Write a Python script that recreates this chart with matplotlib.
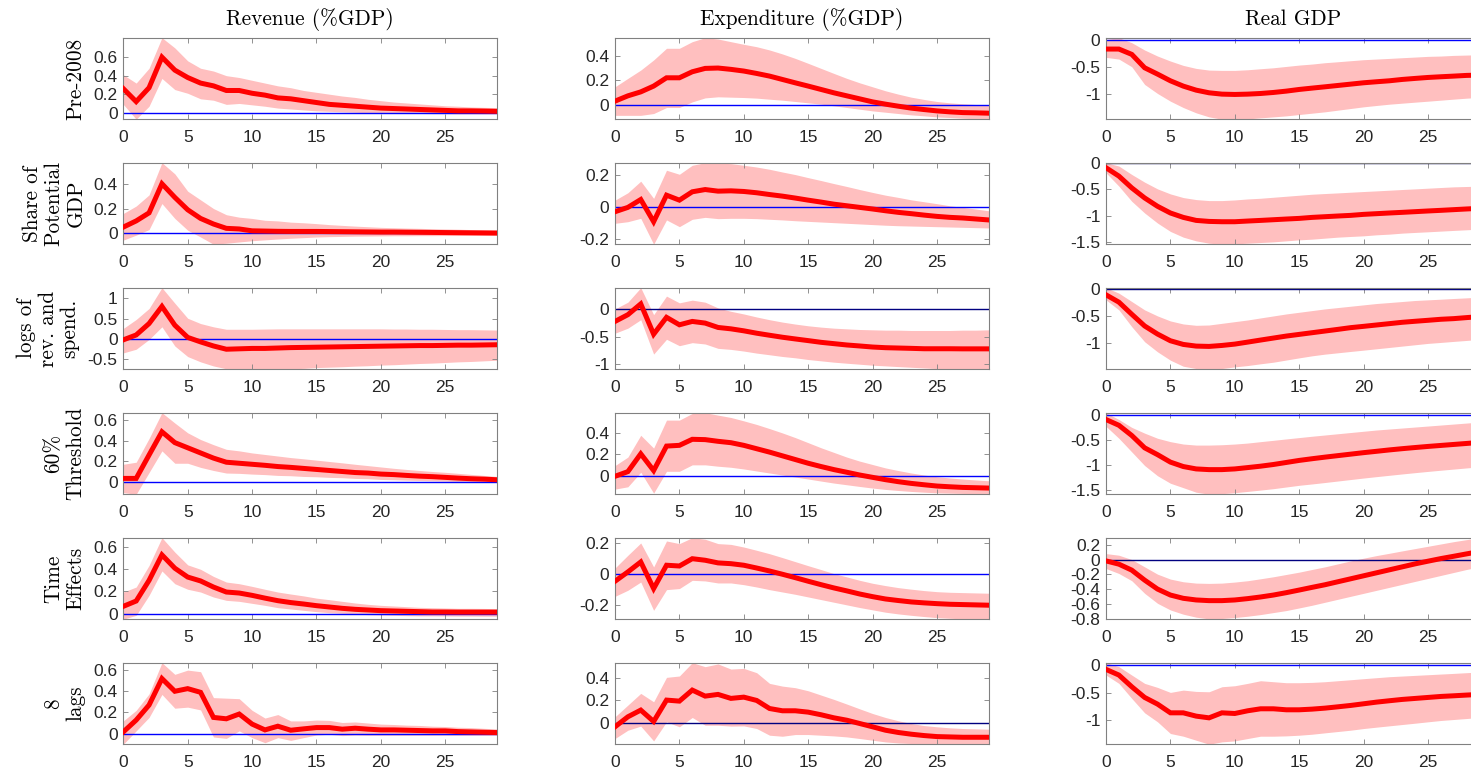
import numpy as np
import matplotlib
matplotlib.use('Agg')
import matplotlib.pyplot as plt
from matplotlib.ticker import FuncFormatter

horizon = np.arange(30)
xticks = [0, 5, 10, 15, 20, 25]
col_titles = ['Revenue (%GDP)', 'Expenditure (%GDP)', 'Real GDP']
row_labels = ['Pre-2008', 'Share of\nPotential\nGDP', 'logs of\nrev. and\nspend.',
              '60%\nThreshold', 'Time\nEffects', '8\nlags']

# ---------------- Revenue (%GDP) ----------------
rev_pre2008_med = [0.26,0.12,0.27,0.60,0.46,0.38,0.32,0.29,0.24,0.24,0.21,0.19,0.16,0.15,0.13,0.11,0.09,0.08,0.07,0.06,0.05,0.045,0.04,0.035,0.03,0.025,0.02,0.02,0.018,0.015]
rev_pre2008_hi = [0.41,0.32,0.48,0.81,0.70,0.56,0.48,0.45,0.40,0.38,0.35,0.32,0.29,0.27,0.24,0.22,0.20,0.18,0.165,0.145,0.13,0.115,0.105,0.095,0.085,0.075,0.07,0.062,0.058,0.055]
rev_pre2008_lo = [0.09,-0.07,0.07,0.37,0.25,0.21,0.15,0.135,0.09,0.10,0.085,0.07,0.05,0.04,0.03,0.02,0.015,0.01,0.005,0.0,-0.003,-0.005,-0.007,-0.008,-0.01,-0.01,-0.012,-0.012,-0.013,-0.013]

rev_share_med = [0.05,0.10,0.165,0.40,0.29,0.19,0.12,0.075,0.04,0.035,0.02,0.018,0.016,0.015,0.015,0.015,0.014,0.013,0.012,0.011,0.01,0.01,0.009,0.008,0.007,0.006,0.005,0.004,0.003,0.002]
rev_share_hi = [0.16,0.22,0.31,0.57,0.48,0.34,0.27,0.20,0.15,0.13,0.12,0.105,0.10,0.09,0.085,0.078,0.07,0.064,0.058,0.053,0.048,0.045,0.042,0.04,0.037,0.035,0.033,0.03,0.028,0.026]
rev_share_lo = [-0.055,-0.015,0.03,0.24,0.12,0.025,-0.03,-0.088,-0.08,-0.07,-0.06,-0.053,-0.046,-0.04,-0.035,-0.03,-0.027,-0.025,-0.023,-0.022,-0.021,-0.02,-0.02,-0.019,-0.019,-0.018,-0.018,-0.017,-0.017,-0.017]

rev_logs_med = [-0.02,0.10,0.38,0.80,0.34,0.04,-0.07,-0.17,-0.25,-0.24,-0.23,-0.23,-0.22,-0.21,-0.205,-0.20,-0.195,-0.19,-0.185,-0.18,-0.175,-0.17,-0.165,-0.16,-0.16,-0.155,-0.15,-0.15,-0.145,-0.14]
rev_logs_hi = [0.26,0.48,0.75,1.26,0.88,0.51,0.38,0.30,0.24,0.24,0.24,0.245,0.25,0.25,0.25,0.25,0.25,0.25,0.25,0.25,0.25,0.245,0.245,0.24,0.24,0.235,0.23,0.23,0.225,0.22]
rev_logs_lo = [-0.34,-0.25,-0.01,0.30,-0.17,-0.43,-0.56,-0.66,-0.73,-0.74,-0.74,-0.74,-0.735,-0.73,-0.72,-0.70,-0.69,-0.68,-0.665,-0.655,-0.64,-0.63,-0.615,-0.60,-0.59,-0.575,-0.56,-0.55,-0.535,-0.52]

rev_thr_med = [0.033,0.033,0.26,0.485,0.38,0.33,0.28,0.23,0.19,0.18,0.17,0.16,0.148,0.14,0.13,0.12,0.11,0.10,0.09,0.085,0.075,0.07,0.062,0.055,0.05,0.043,0.036,0.03,0.026,0.02]
rev_thr_hi = [0.17,0.19,0.42,0.67,0.57,0.475,0.41,0.36,0.315,0.30,0.28,0.265,0.25,0.235,0.223,0.21,0.197,0.184,0.17,0.157,0.144,0.131,0.12,0.11,0.10,0.092,0.082,0.072,0.062,0.052]
rev_thr_lo = [-0.105,-0.12,0.09,0.30,0.18,0.18,0.14,0.11,0.085,0.082,0.075,0.07,0.062,0.059,0.052,0.049,0.043,0.04,0.033,0.03,0.023,0.02,0.016,0.013,0.01,0.007,0.003,0.0,-0.003,-0.006]

rev_time_med = [0.066,0.114,0.30,0.53,0.41,0.33,0.295,0.24,0.195,0.186,0.165,0.14,0.117,0.10,0.087,0.072,0.06,0.048,0.039,0.033,0.027,0.024,0.021,0.018,0.015,0.015,0.014,0.014,0.014,0.014]
rev_time_hi = [0.195,0.24,0.435,0.685,0.555,0.44,0.40,0.336,0.285,0.27,0.246,0.22,0.195,0.177,0.16,0.14,0.126,0.111,0.096,0.084,0.075,0.069,0.063,0.057,0.054,0.051,0.048,0.048,0.047,0.045]
rev_time_lo = [-0.05,-0.015,0.165,0.385,0.27,0.22,0.195,0.15,0.12,0.111,0.093,0.075,0.054,0.042,0.03,0.018,0.009,0.003,-0.003,-0.009,-0.012,-0.015,-0.018,-0.02,-0.02,-0.021,-0.022,-0.022,-0.023,-0.023]

rev_lags_med = [0.016,0.128,0.27,0.52,0.40,0.425,0.39,0.153,0.14,0.185,0.09,0.035,0.07,0.032,0.045,0.057,0.057,0.042,0.051,0.042,0.035,0.035,0.032,0.029,0.026,0.026,0.019,0.016,0.013,0.01]
rev_lags_hi = [0.12,0.22,0.375,0.67,0.56,0.60,0.585,0.34,0.335,0.33,0.22,0.147,0.18,0.12,0.12,0.128,0.125,0.105,0.11,0.10,0.09,0.086,0.08,0.077,0.07,0.067,0.06,0.057,0.05,0.045]
rev_lags_lo = [-0.10,0.026,0.153,0.37,0.24,0.25,0.224,-0.032,-0.045,0.026,-0.038,-0.086,-0.038,-0.064,-0.038,-0.013,-0.006,-0.019,-0.013,-0.016,-0.016,-0.016,-0.016,-0.016,-0.016,-0.016,-0.016,-0.016,-0.016,-0.016]

# ---------------- Expenditure (%GDP) ----------------
exp_pre2008_med = [0.028,0.072,0.105,0.153,0.222,0.222,0.272,0.30,0.303,0.292,0.278,0.258,0.236,0.208,0.18,0.153,0.125,0.097,0.072,0.047,0.022,0.003,-0.014,-0.03,-0.042,-0.053,-0.061,-0.067,-0.069,-0.072]
exp_pre2008_hi = [0.147,0.217,0.286,0.37,0.467,0.467,0.522,0.555,0.544,0.522,0.50,0.48,0.453,0.42,0.383,0.342,0.30,0.258,0.217,0.18,0.147,0.114,0.086,0.061,0.042,0.025,0.014,0.006,0.0,-0.006]
exp_pre2008_lo = [-0.09,-0.09,-0.09,-0.075,-0.025,-0.025,0.022,0.055,0.064,0.061,0.058,0.053,0.044,0.036,0.025,0.014,0.003,-0.011,-0.025,-0.039,-0.053,-0.064,-0.075,-0.086,-0.094,-0.103,-0.108,-0.114,-0.119,-0.122]

exp_share_med = [-0.031,-0.004,0.045,-0.093,0.072,0.041,0.093,0.107,0.097,0.099,0.095,0.087,0.076,0.066,0.054,0.041,0.029,0.016,0.006,-0.004,-0.014,-0.025,-0.035,-0.043,-0.052,-0.06,-0.066,-0.07,-0.076,-0.082]
exp_share_hi = [0.041,0.087,0.159,0.052,0.227,0.202,0.258,0.274,0.272,0.268,0.258,0.247,0.233,0.216,0.2,0.181,0.163,0.144,0.126,0.107,0.089,0.072,0.058,0.043,0.031,0.019,0.006,-0.004,-0.014,-0.025]
exp_share_lo = [-0.103,-0.093,-0.072,-0.233,-0.082,-0.124,-0.078,-0.066,-0.074,-0.072,-0.072,-0.074,-0.078,-0.082,-0.087,-0.091,-0.095,-0.099,-0.103,-0.107,-0.111,-0.115,-0.118,-0.12,-0.122,-0.124,-0.126,-0.128,-0.13,-0.132]

exp_logs_med = [-0.226,-0.104,0.091,-0.457,-0.152,-0.287,-0.226,-0.256,-0.335,-0.36,-0.396,-0.439,-0.476,-0.512,-0.543,-0.573,-0.604,-0.628,-0.652,-0.67,-0.689,-0.701,-0.707,-0.713,-0.72,-0.72,-0.72,-0.722,-0.722,-0.722]
exp_logs_hi = [0.0,0.122,0.384,-0.104,0.232,0.11,0.159,0.122,0.018,-0.043,-0.091,-0.146,-0.195,-0.238,-0.274,-0.305,-0.329,-0.348,-0.36,-0.372,-0.378,-0.384,-0.384,-0.39,-0.39,-0.39,-0.39,-0.384,-0.384,-0.378]
exp_logs_lo = [-0.439,-0.348,-0.195,-0.817,-0.549,-0.665,-0.61,-0.634,-0.713,-0.732,-0.762,-0.799,-0.829,-0.86,-0.884,-0.915,-0.939,-0.963,-0.982,-1.0,-1.018,-1.03,-1.043,-1.055,-1.067,-1.079,-1.085,-1.09,-1.09,-1.09]

exp_thr_med = [-0.006,0.038,0.206,0.048,0.279,0.286,0.343,0.34,0.324,0.311,0.286,0.254,0.222,0.187,0.152,0.117,0.086,0.057,0.032,0.006,-0.016,-0.038,-0.057,-0.073,-0.086,-0.098,-0.105,-0.111,-0.114,-0.117]
exp_thr_hi = [0.095,0.175,0.381,0.26,0.524,0.524,0.587,0.594,0.571,0.549,0.517,0.483,0.444,0.403,0.359,0.311,0.263,0.219,0.175,0.137,0.105,0.073,0.048,0.025,0.006,-0.01,-0.022,-0.032,-0.041,-0.048]
exp_thr_lo = [-0.127,-0.105,0.032,-0.165,0.041,0.041,0.102,0.102,0.089,0.079,0.063,0.044,0.025,0.006,-0.013,-0.032,-0.051,-0.07,-0.086,-0.102,-0.117,-0.13,-0.14,-0.149,-0.156,-0.162,-0.165,-0.168,-0.171,-0.175]

exp_time_med = [-0.049,0.011,0.075,-0.096,0.054,0.049,0.096,0.086,0.069,0.064,0.054,0.036,0.017,-0.004,-0.026,-0.049,-0.071,-0.092,-0.111,-0.131,-0.148,-0.163,-0.173,-0.182,-0.188,-0.193,-0.197,-0.199,-0.201,-0.203]
exp_time_hi = [0.036,0.118,0.197,0.043,0.21,0.193,0.231,0.221,0.193,0.188,0.171,0.15,0.128,0.103,0.077,0.051,0.026,0.0,-0.021,-0.043,-0.062,-0.077,-0.09,-0.1,-0.109,-0.116,-0.12,-0.122,-0.124,-0.126]
exp_time_lo = [-0.146,-0.107,-0.054,-0.236,-0.103,-0.096,-0.043,-0.047,-0.06,-0.06,-0.071,-0.086,-0.103,-0.118,-0.133,-0.15,-0.167,-0.184,-0.201,-0.218,-0.233,-0.248,-0.259,-0.268,-0.276,-0.283,-0.287,-0.291,-0.293,-0.293]

exp_lags_med = [-0.032,0.056,0.115,0.015,0.203,0.194,0.291,0.238,0.253,0.218,0.229,0.2,0.129,0.109,0.109,0.097,0.074,0.047,0.026,-0.003,-0.032,-0.062,-0.082,-0.097,-0.109,-0.118,-0.121,-0.124,-0.124,-0.124]
exp_lags_hi = [0.056,0.159,0.262,0.188,0.403,0.415,0.532,0.497,0.521,0.476,0.482,0.444,0.35,0.326,0.312,0.285,0.247,0.209,0.168,0.126,0.085,0.05,0.021,-0.003,-0.021,-0.032,-0.041,-0.047,-0.05,-0.053]
exp_lags_lo = [-0.135,-0.062,-0.026,-0.156,0.012,-0.032,0.05,-0.018,-0.018,-0.026,-0.024,-0.047,-0.106,-0.115,-0.1,-0.1,-0.106,-0.112,-0.121,-0.135,-0.15,-0.165,-0.174,-0.179,-0.182,-0.185,-0.185,-0.185,-0.185,-0.185]

# ---------------- Real GDP ----------------
gdp_pre2008_med = [-0.168,-0.168,-0.267,-0.516,-0.634,-0.758,-0.857,-0.932,-0.981,-1.006,-1.012,-1.006,-0.994,-0.975,-0.95,-0.919,-0.894,-0.87,-0.845,-0.82,-0.795,-0.776,-0.758,-0.733,-0.714,-0.696,-0.683,-0.671,-0.658,-0.652]
gdp_pre2008_hi = [0.012,0.043,-0.05,-0.186,-0.298,-0.391,-0.472,-0.528,-0.559,-0.565,-0.565,-0.553,-0.534,-0.516,-0.491,-0.466,-0.447,-0.422,-0.404,-0.385,-0.366,-0.354,-0.342,-0.329,-0.317,-0.304,-0.298,-0.286,-0.28,-0.273]
gdp_pre2008_lo = [-0.323,-0.354,-0.497,-0.826,-0.994,-1.137,-1.255,-1.354,-1.429,-1.472,-1.472,-1.466,-1.447,-1.429,-1.41,-1.385,-1.36,-1.335,-1.304,-1.273,-1.242,-1.217,-1.193,-1.174,-1.155,-1.137,-1.118,-1.099,-1.081,-1.068]

gdp_share_med = [-0.095,-0.253,-0.475,-0.665,-0.823,-0.949,-1.032,-1.089,-1.108,-1.114,-1.114,-1.101,-1.089,-1.076,-1.063,-1.051,-1.032,-1.019,-1.006,-0.994,-0.975,-0.962,-0.949,-0.937,-0.924,-0.911,-0.899,-0.886,-0.873,-0.861]
gdp_share_hi = [0.0,-0.063,-0.222,-0.367,-0.494,-0.589,-0.658,-0.696,-0.715,-0.715,-0.703,-0.684,-0.671,-0.652,-0.633,-0.614,-0.595,-0.582,-0.57,-0.557,-0.544,-0.532,-0.519,-0.506,-0.494,-0.481,-0.468,-0.456,-0.449,-0.443]
gdp_share_lo = [-0.19,-0.443,-0.728,-0.949,-1.139,-1.297,-1.405,-1.475,-1.519,-1.538,-1.532,-1.519,-1.506,-1.494,-1.475,-1.456,-1.443,-1.424,-1.405,-1.392,-1.38,-1.361,-1.348,-1.329,-1.316,-1.304,-1.291,-1.278,-1.266,-1.253]

gdp_logs_med = [-0.112,-0.248,-0.472,-0.689,-0.839,-0.963,-1.031,-1.062,-1.068,-1.05,-1.025,-0.988,-0.95,-0.913,-0.876,-0.845,-0.814,-0.783,-0.752,-0.72,-0.696,-0.671,-0.646,-0.621,-0.602,-0.584,-0.565,-0.553,-0.534,-0.516]
gdp_logs_hi = [0.02,-0.081,-0.236,-0.391,-0.503,-0.596,-0.652,-0.677,-0.671,-0.64,-0.609,-0.578,-0.54,-0.503,-0.466,-0.435,-0.404,-0.373,-0.348,-0.323,-0.298,-0.273,-0.255,-0.236,-0.217,-0.205,-0.193,-0.18,-0.168,-0.155]
gdp_logs_lo = [-0.205,-0.391,-0.702,-0.981,-1.168,-1.323,-1.435,-1.478,-1.49,-1.478,-1.447,-1.422,-1.39,-1.36,-1.32,-1.28,-1.242,-1.211,-1.186,-1.161,-1.137,-1.112,-1.087,-1.062,-1.037,-1.012,-0.994,-0.975,-0.957,-0.938]

gdp_thr_med = [-0.089,-0.205,-0.41,-0.658,-0.795,-0.945,-1.034,-1.082,-1.096,-1.096,-1.082,-1.055,-1.027,-0.993,-0.952,-0.911,-0.877,-0.845,-0.815,-0.785,-0.755,-0.728,-0.70,-0.675,-0.652,-0.63,-0.61,-0.59,-0.57,-0.55]
gdp_thr_hi = [0.048,-0.089,-0.247,-0.363,-0.466,-0.534,-0.582,-0.603,-0.603,-0.596,-0.582,-0.562,-0.534,-0.507,-0.479,-0.452,-0.425,-0.40,-0.375,-0.35,-0.325,-0.30,-0.28,-0.26,-0.24,-0.22,-0.20,-0.18,-0.16,-0.14]
gdp_thr_lo = [-0.226,-0.466,-0.74,-1.014,-1.219,-1.37,-1.459,-1.55,-1.59,-1.58,-1.56,-1.534,-1.507,-1.479,-1.445,-1.411,-1.384,-1.355,-1.325,-1.295,-1.265,-1.237,-1.21,-1.183,-1.157,-1.132,-1.108,-1.085,-1.062,-1.04]

gdp_time_med = [-0.018,-0.062,-0.142,-0.276,-0.396,-0.476,-0.52,-0.542,-0.551,-0.551,-0.542,-0.524,-0.502,-0.476,-0.444,-0.409,-0.373,-0.338,-0.298,-0.258,-0.218,-0.178,-0.138,-0.098,-0.058,-0.022,0.013,0.044,0.076,0.107]
gdp_time_hi = [0.08,0.058,0.0,-0.098,-0.196,-0.262,-0.298,-0.316,-0.32,-0.316,-0.302,-0.284,-0.258,-0.231,-0.2,-0.169,-0.133,-0.098,-0.058,-0.018,0.018,0.053,0.084,0.116,0.147,0.178,0.209,0.24,0.267,0.293]
gdp_time_lo = [-0.12,-0.187,-0.284,-0.453,-0.587,-0.676,-0.733,-0.773,-0.796,-0.791,-0.778,-0.76,-0.738,-0.711,-0.684,-0.649,-0.613,-0.573,-0.533,-0.493,-0.453,-0.413,-0.373,-0.333,-0.293,-0.253,-0.213,-0.173,-0.133,-0.098]

gdp_lags_med = [-0.079,-0.182,-0.394,-0.588,-0.709,-0.867,-0.867,-0.927,-0.958,-0.867,-0.879,-0.83,-0.794,-0.794,-0.812,-0.812,-0.8,-0.782,-0.758,-0.733,-0.703,-0.673,-0.648,-0.624,-0.606,-0.588,-0.57,-0.558,-0.545,-0.533]
gdp_lags_hi = [0.042,-0.03,-0.182,-0.333,-0.406,-0.497,-0.455,-0.479,-0.485,-0.394,-0.376,-0.333,-0.285,-0.303,-0.321,-0.321,-0.315,-0.303,-0.285,-0.267,-0.248,-0.23,-0.212,-0.2,-0.188,-0.176,-0.164,-0.152,-0.139,-0.127]
gdp_lags_lo = [-0.182,-0.333,-0.606,-0.867,-1.03,-1.242,-1.291,-1.364,-1.436,-1.394,-1.376,-1.333,-1.291,-1.291,-1.285,-1.273,-1.255,-1.23,-1.206,-1.182,-1.152,-1.127,-1.103,-1.079,-1.055,-1.03,-1.006,-0.988,-0.97,-0.952]

# y tick values per panel (rows x columns)
yticks = [
    [[0, 0.2, 0.4, 0.6], [0, 0.2, 0.4], [-1, -0.5, 0]],
    [[0, 0.2, 0.4], [-0.2, 0, 0.2], [-1.5, -1, -0.5, 0]],
    [[-0.5, 0, 0.5, 1], [-1, -0.5, 0], [-1, -0.5, 0]],
    [[0, 0.2, 0.4, 0.6], [0, 0.2, 0.4], [-1.5, -1, -0.5, 0]],
    [[0, 0.2, 0.4, 0.6], [-0.2, 0, 0.2], [-0.8, -0.6, -0.4, -0.2, 0, 0.2]],
    [[0, 0.2, 0.4, 0.6], [0, 0.2, 0.4], [-1, -0.5, 0]],
]

panels = [
    [(rev_pre2008_med, rev_pre2008_lo, rev_pre2008_hi), (exp_pre2008_med, exp_pre2008_lo, exp_pre2008_hi), (gdp_pre2008_med, gdp_pre2008_lo, gdp_pre2008_hi)],
    [(rev_share_med, rev_share_lo, rev_share_hi), (exp_share_med, exp_share_lo, exp_share_hi), (gdp_share_med, gdp_share_lo, gdp_share_hi)],
    [(rev_logs_med, rev_logs_lo, rev_logs_hi), (exp_logs_med, exp_logs_lo, exp_logs_hi), (gdp_logs_med, gdp_logs_lo, gdp_logs_hi)],
    [(rev_thr_med, rev_thr_lo, rev_thr_hi), (exp_thr_med, exp_thr_lo, exp_thr_hi), (gdp_thr_med, gdp_thr_lo, gdp_thr_hi)],
    [(rev_time_med, rev_time_lo, rev_time_hi), (exp_time_med, exp_time_lo, exp_time_hi), (gdp_time_med, gdp_time_lo, gdp_time_hi)],
    [(rev_lags_med, rev_lags_lo, rev_lags_hi), (exp_lags_med, exp_lags_lo, exp_lags_hi), (gdp_lags_med, gdp_lags_lo, gdp_lags_hi)],
]

zero_colors = [
    ['#0000ff', '#0000ff', '#0000ff'],
    ['#0000ff', '#0000ff', '#000060'],
    ['#0000ff', '#000080', '#000080'],
    ['#0000ff', '#0000ff', '#0000ff'],
    ['#0000ff', '#0000ff', '#000080'],
    ['#0000ff', '#000080', '#0000ff'],
]

W, H = 1471, 778
fig = plt.figure(figsize=(W / 100, H / 100), dpi=100)

col_left = [123.3, 615.0, 1106.0]
ax_w = 373.5
row_top0 = 37.7
row_step = 125.0
ax_h = 81.5

tick_font = 'Liberation Sans'
label_font = 'cmr10'
spine_col = '#808080'
band_col = '#ffbfbf'


def fmt(v, pos):
    s = '%g' % round(v, 6)
    if s == '-0':
        s = '0'
    return s


for r in range(6):
    for c in range(3):
        top = row_top0 + r * row_step
        ax = fig.add_axes([col_left[c] / W, 1 - (top + ax_h) / H, ax_w / W, ax_h / H])
        med, lo, hi = (np.array(a) for a in panels[r][c])
        ax.fill_between(horizon, lo, hi, color=band_col, lw=0, zorder=1)
        ax.axhline(0, color=zero_colors[r][c], lw=1.0, zorder=2)
        ax.plot(horizon, med, color='#ff0000', lw=3.6, zorder=3, solid_joinstyle='miter')
        ax.set_xlim(horizon[0], horizon[-1])
        ax.set_ylim(lo.min(), hi.max())
        ax.set_xticks(xticks)
        ax.set_yticks(yticks[r][c])
        ax.yaxis.set_major_formatter(FuncFormatter(fmt))
        ax.xaxis.set_major_formatter(FuncFormatter(fmt))
        ax.tick_params(direction='in', top=True, right=True, length=3.5, width=0.6,
                       color=spine_col, labelcolor='#262626', labelsize=12.5)
        ax.tick_params(axis='x', pad=7.5)
        ax.tick_params(axis='y', pad=4)
        for lab in ax.get_xticklabels() + ax.get_yticklabels():
            lab.set_fontfamily(tick_font)
        for sp in ax.spines.values():
            sp.set_color(spine_col)
            sp.set_linewidth(0.8)
        if r == 0:
            ax.set_title(col_titles[c], fontsize=15.3, family=label_font, pad=9)
        if c == 0:
            ax.set_ylabel(row_labels[r], fontsize=15.3, family=label_font, labelpad=6,
                          linespacing=1.15)

fig.savefig('out.png', dpi=100)
